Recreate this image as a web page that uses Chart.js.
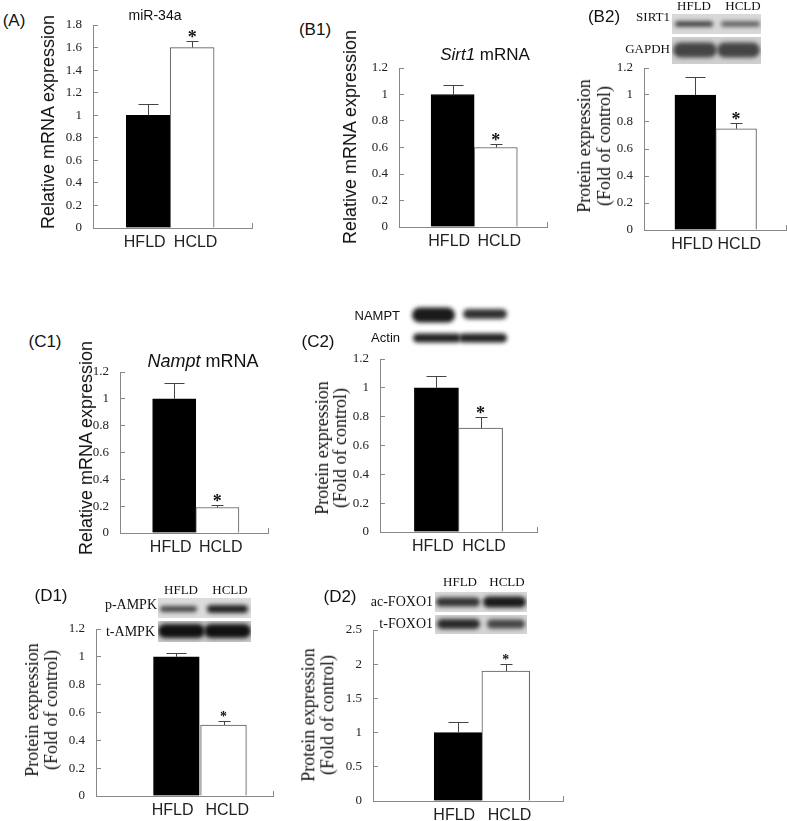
<!DOCTYPE html>
<html>
<head>
<meta charset="utf-8">
<script src="https://cdn.jsdelivr.net/npm/chart.js@4.4.1/dist/chart.umd.min.js"></script>
<style>
  html, body { margin: 0; padding: 0; background: #fff; overflow: hidden; }
  #fig { position: relative; width: 787px; height: 821px; }
  #fig canvas { position: absolute; }
  .t { position: absolute; white-space: nowrap; color: #111; line-height: 1; }
</style>
</head>
<body>
<div id="fig"></div>
<script>
const groups = ['HFLD', 'HCLD'];

// mean and upper error bar
const mir34a = [1.0, 1.6];
const mir34aErr = [0.10, 0.06];
const sirt1Mrna = [1.0, 0.6];
const sirt1MrnaErr = [0.07, 0.03];
const sirt1Protein = [1.0, 0.75];
const sirt1ProteinErr = [0.13, 0.04];
const namptMrna = [1.0, 0.19];
const namptMrnaErr = [0.12, 0.015];
const namptProtein = [1.0, 0.72];
const namptProteinErr = [0.08, 0.075];
const pAmpk = [1.0, 0.51];
const pAmpkErr = [0.025, 0.03];
const acFoxo1 = [1.0, 1.9];
const acFoxo1Err = [0.16, 0.10];

// y tick labels
const ticks18 = [0, 0.2, 0.4, 0.6, 0.8, 1, 1.2, 1.4, 1.6, 1.8];
const ticks12 = [0, 0.2, 0.4, 0.6, 0.8, 1, 1.2];
const ticks25 = [0, 0.5, 1, 1.5, 2, 2.5];

const fig = document.getElementById('fig');
const PT = 30, PR = 14, XH = 32, YW = 50;
const AXIS = '#888';

/**
 * Upward error bars plus a significance star over the second bar.
 */
const errorBars = {
  id: 'errorBars',
  afterDatasetsDraw(chart, args, opts) {
    const { ctx } = chart;
    const y = chart.scales.y;
    const ds = chart.data.datasets[0];
    const meta = chart.getDatasetMeta(0);
    ctx.save();
    ctx.strokeStyle = '#444';
    ctx.lineWidth = 1;
    meta.data.forEach((bar, i) => {
      const top = Math.round(y.getPixelForValue(ds.data[i].y + ds.errors[i])) + 0.5;
      const x = Math.round(bar.x) + 0.5;
      const cap = i ? 6 : 10;
      ctx.beginPath();
      ctx.moveTo(x, bar.y);
      ctx.lineTo(x, top);
      ctx.moveTo(x - cap, top);
      ctx.lineTo(x + cap, top);
      ctx.stroke();
      if (i === 1) {
        ctx.fillStyle = '#111';
        ctx.font = 'bold ' + opts.star + 'px "Liberation Serif"';
        ctx.textAlign = 'center';
        ctx.textBaseline = 'alphabetic';
        const m = ctx.measureText('*');
        const cy = top - 8;
        ctx.fillText('*', bar.x, cy + (m.actualBoundingBoxAscent - m.actualBoundingBoxDescent) / 2);
      }
    });
    ctx.restore();
  }
};

function barPanel(box, xRange, values, errors, yTicks, star) {
  const [L, T, R, B] = box.map(Math.round);
  const cv = document.createElement('canvas');
  const w = YW + (R - L) + PR;
  const h = PT + (B - T) + XH;
  cv.width = w;
  cv.height = h;
  cv.style.left = (L - YW) + 'px';
  cv.style.top = (T - PT) + 'px';
  fig.appendChild(cv);
  const [xMin, xMax] = xRange;
  const spread = 0.08;
  return new Chart(cv, {
    type: 'bar',
    data: {
      datasets: [{
        data: values.map((v, i) => ({ x: i + 1, y: v })),
        errors: errors,
        backgroundColor: ['#000', '#fff'],
        borderColor: ['#000', '#555'],
        borderWidth: 1,
        categoryPercentage: 1,
        barPercentage: 1
      }]
    },
    options: {
      responsive: false,
      animation: false,
      events: [],
      layout: { padding: { top: PT, right: PR, left: 0, bottom: 0 } },
      plugins: { legend: { display: false }, tooltip: { enabled: false }, errorBars: { star: star } },
      scales: {
        x: {
          type: 'linear',
          offset: false,
          min: xMin,
          max: xMax,
          afterBuildTicks: (s) => {
            s.ticks = groups.map((g, i) => ({ value: i + 1 + (i ? spread : -spread) })).concat({ value: xMax });
          },
          afterFit: (s) => { s.height = XH; },
          ticks: {
            autoSkip: false, maxRotation: 0, padding: 10, color: '#222',
            font: { family: '"Liberation Sans"', size: 16 },
            callback: (v, i) => groups[i] || ''
          },
          grid: {
            offset: false, drawOnChartArea: false, tickLength: -5,
            color: (c) => (c.index === 2 ? AXIS : 'rgba(0,0,0,0)')
          },
          border: { color: AXIS }
        },
        y: {
          min: yTicks[0],
          max: yTicks[yTicks.length - 1],
          afterBuildTicks: (s) => { s.ticks = yTicks.map((v) => ({ value: v })); },
          afterFit: (s) => { s.width = YW; },
          ticks: {
            padding: 16, color: '#222',
            font: { family: '"Liberation Serif"', size: 13 },
            callback: (v) => String(v)
          },
          grid: { drawOnChartArea: false, tickLength: -5, color: AXIS },
          border: { color: AXIS }
        }
      }
    },
    plugins: [errorBars]
  });
}

function text(html, x, y, font, anchor) {
  const d = document.createElement('div');
  d.className = 't';
  d.innerHTML = html;
  d.style.font = font;
  d.style.left = x + 'px';
  d.style.top = y + 'px';
  d.style.transform = anchor === 'right' ? 'translate(-100%,-50%)' : 'translate(-50%,-50%)';
  fig.appendChild(d);
}

function vtext(lines, cx, cy, font, gap) {
  const d = document.createElement('div');
  d.className = 't';
  d.innerHTML = lines.join('<br>');
  d.style.font = font;
  d.style.lineHeight = gap + 'px';
  d.style.textAlign = 'center';
  d.style.left = cx + 'px';
  d.style.top = cy + 'px';
  d.style.transform = 'translate(-50%,-50%) rotate(-90deg)';
  fig.appendChild(d);
}

// western blot strip: [x, width, centre y, height, colour] per band, relative to the strip
function blot(x, y, w, h, bg, bands) {
  const c = document.createElement('canvas');
  c.width = w;
  c.height = h;
  c.style.left = x + 'px';
  c.style.top = y + 'px';
  fig.appendChild(c);
  const g = c.getContext('2d');
  if (bg) {
    g.fillStyle = bg;
    g.fillRect(0, 0, w, h);
  }
  g.filter = 'blur(2px)';
  bands.forEach(([bx, bw, cy, bh, col]) => {
    g.fillStyle = col;
    g.beginPath();
    g.roundRect(bx, cy - bh / 2, bw, bh, bh / 2);
    g.fill();
  });
}

const SANS = '"Liberation Sans", Arial, sans-serif';
const SERIF = '"Liberation Serif", "Times New Roman", serif';

// blots
blot(672, 14, 89, 20, '#d8d8d8', [[3, 38, 10, 5, '#333'], [49, 39, 10, 5, '#555']]);
blot(672, 37, 89, 27, '#cfcfcf', [[1, 44, 13, 15, '#444'], [45, 43, 13, 15, '#444']]);
blot(405, 302, 108, 26, null, [[7, 43, 13, 15, '#1a1a1a'], [58, 44, 12, 10, '#333']]);
blot(405, 329, 108, 18, null, [[8, 48, 9, 9, '#222'], [54, 48, 9, 9, '#222']]);
blot(158, 598, 93, 20, '#dcdcdc', [[2, 37, 11, 6, '#444'], [49, 41, 11, 8, '#222']]);
blot(158, 621, 93, 21, '#c8c8c8', [[0, 47, 10, 14, '#111'], [46, 47, 10, 14, '#111']]);
blot(435, 592, 92, 20, '#d8d8d8', [[1, 44, 10, 9, '#333'], [48, 43, 10, 11, '#1a1a1a']]);
blot(435, 615, 92, 19, '#d4d4d4', [[2, 43, 9, 10, '#2a2a2a'], [52, 38, 9, 9, '#444']]);

// charts
barPanel([92.7, 25, 252, 228], [-0.257, 3.363], mir34a, mir34aErr, ticks18, 18);
barPanel([399.3, 67.7, 547, 227.3], [-0.245, 3.19], sirt1Mrna, sirt1MrnaErr, ticks12, 18);
barPanel([644.3, 67.7, 786, 230], [-0.258, 3.224], sirt1Protein, sirt1ProteinErr, ticks12, 18);
barPanel([120, 372.3, 268, 533.3], [-0.256, 3.174], namptMrna, namptMrnaErr, ticks12, 18);
barPanel([380, 359, 536.7, 531.7], [-0.28, 3.281], namptProtein, namptProteinErr, ticks12, 18);
barPanel([95.7, 629, 273.3, 796], [-0.705, 3.05], pAmpk, pAmpkErr, ticks12, 14);
barPanel([372.7, 630, 563.3, 800.7], [-0.783, 3.2], acFoxo1, acFoxo1Err, ticks25, 14);

// panel tags
text('(A)', 14, 21, '17px ' + SANS);
text('(B1)', 315, 30, '17px ' + SANS);
text('(B2)', 604, 17, '17px ' + SANS);
text('(C1)', 45, 342, '17px ' + SANS);
text('(C2)', 318, 342, '17px ' + SANS);
text('(D1)', 51, 596, '17px ' + SANS);
text('(D2)', 340, 597, '17px ' + SANS);

// chart titles
text('miR-34a', 155, 15, '14px ' + SANS);
text('<i>Sirt1</i> mRNA', 485, 55, '17px ' + SANS);
text('<i>Nampt</i> mRNA', 203, 361, '18px ' + SANS);

// axis titles
vtext(['Relative mRNA expression'], 48, 122, '18px ' + SANS, 20);
vtext(['Relative mRNA expression'], 350, 137, '18px ' + SANS, 20);
vtext(['Relative mRNA expression'], 86, 448, '18px ' + SANS, 20);
vtext(['Protein expression', '(Fold of control)'], 594, 146, '18px ' + SERIF, 20);
vtext(['Protein expression', '(Fold of control)'], 331, 448, '18px ' + SERIF, 18);
vtext(['Protein expression', '(Fold of control)'], 41.5, 710, '18px ' + SERIF, 19);
vtext(['Protein expression', '(Fold of control)'], 318, 715, '18px ' + SERIF, 18.7);

// blot labels
text('HFLD', 694, 6, '13px ' + SERIF);
text('HCLD', 743, 6, '13px ' + SERIF);
text('SIRT1', 670, 17, '13px ' + SERIF, 'right');
text('GAPDH', 670, 49, '13px ' + SERIF, 'right');
text('NAMPT', 400, 315, '13px ' + SANS, 'right');
text('Actin', 400, 337, '13px ' + SANS, 'right');
text('HFLD', 181, 590, '13px ' + SERIF);
text('HCLD', 230, 590, '13px ' + SERIF);
text('p-AMPK', 157, 605, '14px ' + SERIF, 'right');
text('t-AMPK', 155, 632, '14px ' + SERIF, 'right');
text('HFLD', 460, 582, '13px ' + SERIF);
text('HCLD', 507, 582, '13px ' + SERIF);
text('ac-FOXO1', 433, 602, '14px ' + SERIF, 'right');
text('t-FOXO1', 433, 624, '14px ' + SERIF, 'right');
</script>
</body>
</html>
